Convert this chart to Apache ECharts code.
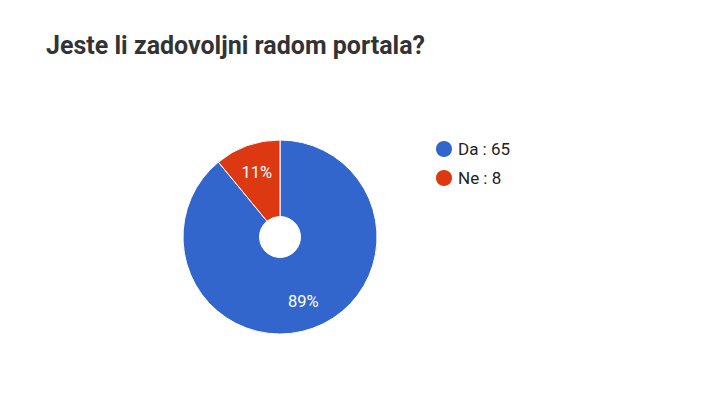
<!DOCTYPE html>
<html>
<head>
<meta charset="utf-8">
<style>
  html, body { margin: 0; padding: 0; background: #fff; }
  #chart { width: 720px; height: 420px; }
</style>
<script src="https://cdn.jsdelivr.net/npm/echarts@6/dist/echarts.min.js"></script>
</head>
<body>
<div id="chart"></div>
<script>
// podaci
const categories = ['Da', 'Ne'];
const values = [65, 8];
const colors = ['#3366CC', '#DC3912'];

const data = categories.map((name, i) => ({ name, value: values[i] }));
const total = values.reduce((a, b) => a + b, 0);

const chart = echarts.init(document.getElementById('chart'), null, { renderer: 'svg' });

chart.setOption({
  animation: false,
  color: colors,
  title: {
    text: 'Jeste li zadovoljni radom portala?',
    left: 46,
    top: 33,
    padding: 0,
    textStyle: { fontFamily: 'Roboto', fontSize: 25, fontWeight: 'bold', color: '#333' }
  },
  legend: {
    orient: 'vertical',
    left: 434,
    top: 139,
    padding: 0,
    icon: 'circle',
    itemWidth: 18,
    itemHeight: 18,
    itemGap: 9,
    textStyle: { fontFamily: 'Roboto', fontSize: 17, color: '#222' },
    formatter: name => name + ' : ' + values[categories.indexOf(name)]
  },
  series: [
    {
      type: 'pie',
      center: [280, 237],
      radius: [20.5, 97],
      startAngle: 90,
      clockwise: true,
      data: data,
      label: { show: false },
      labelLine: { show: false },
      itemStyle: { borderColor: '#fff', borderWidth: 1 }
    },
    {
      // samo natpisi postotaka, malo dalje od centra
      type: 'pie',
      center: [280, 237],
      radius: [35, 97],
      startAngle: 90,
      clockwise: true,
      silent: true,
      legendHoverLink: false,
      data: data,
      itemStyle: { color: 'rgba(0,0,0,0)' },
      labelLine: { show: false },
      label: {
        show: true,
        position: 'inside',
        fontFamily: 'Roboto',
        fontSize: 16.5,
        color: '#fff',
        formatter: p => Math.round(p.value / total * 100) + '%'
      }
    }
  ]
});
</script>
</body>
</html>
